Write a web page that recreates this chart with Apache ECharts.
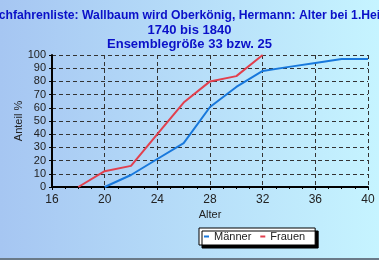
<!DOCTYPE html>
<html>
<head>
<meta charset="utf-8">
<script src="https://cdn.jsdelivr.net/npm/echarts@6/dist/echarts.min.js"></script>
<style>
  html, body { margin: 0; padding: 0; }
  #chart { width: 379px; height: 260px; }
</style>
</head>
<body>
<div id="chart"></div>
<script>
// Alter (Jahre) und kumulierter Anteil in %
var alterMaenner = [20, 22, 24, 26, 28, 30, 32, 34, 36, 38, 40];
var anteilMaenner = [0, 9.1, 21.2, 33.3, 60.6, 75.8, 87.9, 91, 94, 97, 97];
var alterFrauen = [18, 20, 22, 24, 26, 28, 30, 32];
var anteilFrauen = [0, 12, 16, 40, 64, 80, 84, 100];

var titelZeilen = [
  'Nachfahrenliste: Wallbaum wird Oberkönig, Hermann: Alter bei 1.Heirat',
  '1740 bis 1840',
  'Ensemblegröße 33 bzw. 25'
];

function pairs(xs, ys) {
  return xs.map(function (x, i) { return [x, ys[i]]; });
}

var titelStil = { fontFamily: 'Liberation Sans', fontWeight: 'bold', color: '#0a10c8', lineHeight: 14 };

var option = {
  backgroundColor: new echarts.graphic.LinearGradient(0, 0, 1, 0, [
    { offset: 0, color: '#a6c6f2' },
    { offset: 1, color: '#c6f4ff' }
  ]),
  animation: false,
  title: {
    text: '{a|' + titelZeilen[0] + '}\n{b|' + titelZeilen[1] + '}\n{b|' + titelZeilen[2] + '}',
    left: 'center',
    top: 4,
    textStyle: {
      rich: {
        a: Object.assign({ fontSize: 12.2 }, titelStil),
        b: Object.assign({ fontSize: 13 }, titelStil)
      }
    }
  },
  grid: { left: 52, top: 55, right: 11, bottom: 73 },
  legend: {
    left: 199,
    top: 228,
    padding: [3, 10, 3, 5],
    itemGap: 9,
    itemWidth: 5,
    itemHeight: 2,
    icon: 'rect',
    backgroundColor: '#fff',
    borderColor: '#000',
    borderWidth: 1,
    shadowColor: '#000',
    shadowBlur: 0,
    shadowOffsetX: 3,
    shadowOffsetY: 3,
    textStyle: { fontFamily: 'Liberation Sans', fontSize: 11, color: '#222' },
    data: ['Männer', 'Frauen']
  },
  xAxis: {
    type: 'value',
    min: 16,
    max: 40,
    interval: 4,
    name: 'Alter',
    nameLocation: 'middle',
    nameGap: 22,
    nameMoveOverlap: false,
    nameTextStyle: { fontFamily: 'Liberation Sans', fontSize: 11, color: '#222' },
    axisLine: { lineStyle: { color: '#000', width: 2 } },
    axisTick: { length: 3, lineStyle: { color: '#000' } },
    minorTick: { show: true, splitNumber: 4, length: 2, lineStyle: { color: '#000' } },
    axisLabel: { fontFamily: 'Liberation Sans', fontSize: 12, color: '#222', margin: 7 },
    splitLine: { lineStyle: { color: '#333', type: [4, 3], width: 1 } }
  },
  yAxis: {
    type: 'value',
    min: 0,
    max: 100,
    interval: 10,
    name: 'Anteil %',
    nameLocation: 'middle',
    nameGap: 28,
    nameMoveOverlap: false,
    nameTextStyle: { fontFamily: 'Liberation Sans', fontSize: 11, color: '#222' },
    axisLine: { show: true, lineStyle: { color: '#000', width: 2 } },
    axisTick: { show: true, length: 3, lineStyle: { color: '#000' } },
    axisLabel: { fontFamily: 'Liberation Sans', fontSize: 11, color: '#222', margin: 6 },
    splitLine: { lineStyle: { color: '#333', type: [4, 3], width: 1 } }
  },
  series: [
    {
      name: 'Männer',
      type: 'line',
      data: pairs(alterMaenner, anteilMaenner),
      showSymbol: false,
      lineStyle: { color: '#1878dc', width: 2 },
      itemStyle: { color: '#1878dc' }
    },
    {
      name: 'Frauen',
      type: 'line',
      data: pairs(alterFrauen, anteilFrauen),
      showSymbol: false,
      lineStyle: { color: '#e2404e', width: 2 },
      itemStyle: { color: '#e2404e' }
    }
  ],
  graphic: [
    { type: 'rect', left: 0, bottom: 0, shape: { width: 379, height: 2 }, style: { fill: '#6a7a88' } }
  ]
};

var myChart = echarts.init(document.getElementById('chart'));
myChart.setOption(option);
</script>
</body>
</html>
